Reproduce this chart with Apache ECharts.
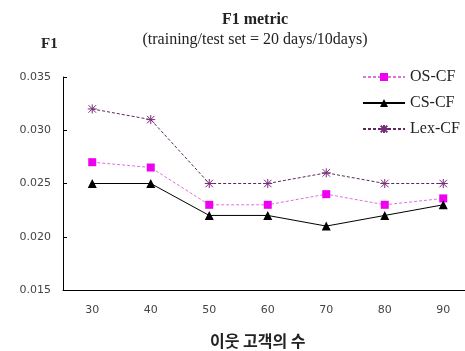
<!DOCTYPE html>
<html><head><meta charset="utf-8">
<script src="https://cdn.jsdelivr.net/npm/echarts@6/dist/echarts.min.js"></script>
<style>html,body{margin:0;padding:0;background:#fff}#c{width:465px;height:351px}</style>
</head><body><div id="c"></div>
<script>
const categories = ['30','40','50','60','70','80','90'];
const osCF = [0.027, 0.0265, 0.023, 0.023, 0.024, 0.023, 0.0236];
const csCF = [0.025, 0.025, 0.022, 0.022, 0.021, 0.022, 0.023];
const lexCF = [0.032, 0.031, 0.025, 0.025, 0.026, 0.025, 0.025];
const yTicks = {min: 0.015, max: 0.035, interval: 0.005};

const star = 'path://M0,0L10,10M10,0L0,10M5,-1L5,11M-1,5L11,5';
const chart = echarts.init(document.getElementById('c'), null, {renderer: 'canvas'});
chart.setOption({
  animation: false,
  backgroundColor: '#fff',
  title: [
    {text: 'F1 metric', left: 250, top: 7, textAlign: 'center',
     textStyle: {fontFamily: 'Liberation Serif', fontWeight: 'bold', fontSize: 16, color: '#222'}},
    {text: '(training/test set = 20 days/10days)', left: 250, top: 27, textAlign: 'center',
     textStyle: {fontFamily: 'Liberation Serif', fontWeight: 'normal', fontSize: 16, color: '#222'}},
    {text: 'F1', left: 36, top: 32,
     textStyle: {fontFamily: 'Liberation Serif', fontWeight: 'bold', fontSize: 15, color: '#222'}}
  ],
  legend: {
    orient: 'vertical', left: 357, top: 64, itemWidth: 42, itemHeight: 10, itemGap: 10,
    textStyle: {fontFamily: 'Liberation Serif', fontSize: 16, color: '#222'},
    data: ['OS-CF', 'CS-CF', 'Lex-CF']
  },
  grid: {left: 63, top: 77, width: 409.5, bottom: 61, containLabel: false, outerBoundsMode: 'none'},
  xAxis: {
    type: 'category', data: categories, boundaryGap: true,
    name: '이웃 고객의 수', nameLocation: 'middle', nameGap: 43,
    nameTextStyle: {fontFamily: 'Noto Sans CJK KR', fontWeight: 'bold', fontSize: 16, color: '#222', padding: [0, 0, 0, -20]},
    axisLine: {lineStyle: {color: '#000', width: 1}},
    axisTick: {inside: true, length: 4, lineStyle: {color: '#000'}},
    axisLabel: {margin: 15, fontFamily: 'DejaVu Sans', fontSize: 11, color: '#444'},
    splitLine: {show: false}
  },
  yAxis: {
    type: 'value', min: yTicks.min, max: yTicks.max, interval: yTicks.interval,
    axisLine: {show: true, lineStyle: {color: '#000', width: 1}},
    axisTick: {show: true, inside: true, length: 4, lineStyle: {color: '#000'}},
    axisLabel: {margin: 12, fontFamily: 'DejaVu Sans', fontSize: 11, color: '#444',
      formatter: v => v.toFixed(3)},
    splitLine: {show: false}
  },
  series: [
    {name: 'OS-CF', type: 'line', data: osCF, symbol: 'rect', symbolSize: 8,
     itemStyle: {color: '#f000f0'},
     lineStyle: {color: '#e070e0', width: 1, type: [3, 2]}},
    {name: 'CS-CF', type: 'line', data: csCF, symbol: 'triangle', symbolSize: 9,
     itemStyle: {color: '#000'},
     lineStyle: {color: '#000', width: 1, type: 'solid'}},
    {name: 'Lex-CF', type: 'line', data: lexCF, symbol: star, symbolSize: 9,
     itemStyle: {color: 'transparent', borderColor: '#7a2a7a', borderWidth: 1},
     lineStyle: {color: '#5a2a5a', width: 1, type: [3, 2]}}
  ]
});
</script></body></html>
